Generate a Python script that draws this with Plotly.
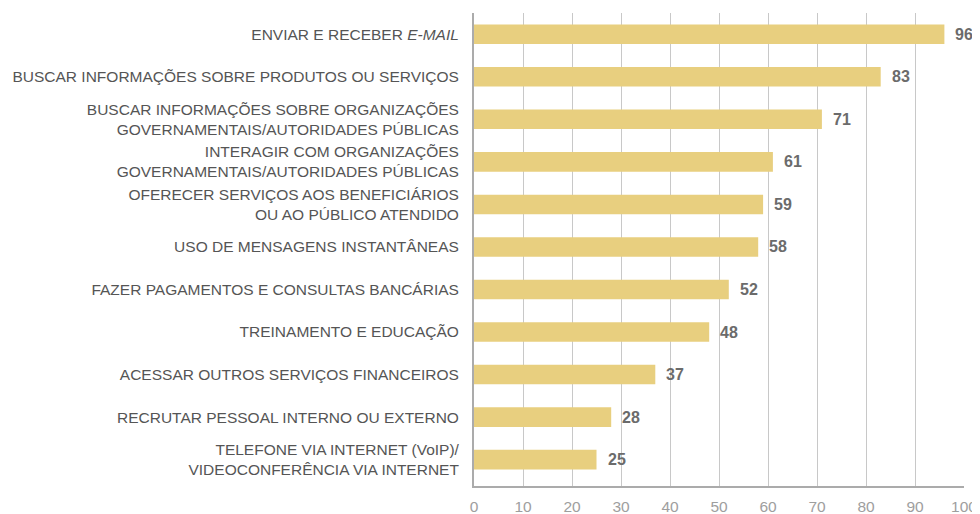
import plotly.graph_objects as go

categories = [
    "ENVIAR E RECEBER <i>E-MAIL</i>",
    "BUSCAR INFORMAÇÕES SOBRE PRODUTOS OU SERVIÇOS",
    "BUSCAR INFORMAÇÕES SOBRE ORGANIZAÇÕES<br>GOVERNAMENTAIS/AUTORIDADES PÚBLICAS",
    "INTERAGIR COM ORGANIZAÇÕES<br>GOVERNAMENTAIS/AUTORIDADES PÚBLICAS",
    "OFERECER SERVIÇOS AOS BENEFICIÁRIOS<br>OU AO PÚBLICO ATENDIDO",
    "USO DE MENSAGENS INSTANTÂNEAS",
    "FAZER PAGAMENTOS E CONSULTAS BANCÁRIAS",
    "TREINAMENTO E EDUCAÇÃO",
    "ACESSAR OUTROS SERVIÇOS FINANCEIROS",
    "RECRUTAR PESSOAL INTERNO OU EXTERNO",
    "TELEFONE VIA INTERNET (VoIP)/<br>VIDEOCONFERÊNCIA VIA INTERNET",
]
values = [96, 83, 71, 61, 59, 58, 52, 48, 37, 28, 25]
x_ticks = [0, 10, 20, 30, 40, 50, 60, 70, 80, 90, 100]

fig = go.Figure()
fig.add_trace(go.Bar(
    x=values, y=list(range(len(categories))), orientation="h",
    marker=dict(color="#E8CF7F", line=dict(width=0)),
    hoverinfo="skip",
))

for i, v in enumerate(values):
    fig.add_annotation(
        x=v, y=i, text=f"<b>{v}</b>", showarrow=False,
        xanchor="left", yanchor="middle", xshift=9,
        font=dict(family="Liberation Sans", size=16, color="#6b6b6b"),
    )

fig.update_layout(
    width=972, height=506,
    margin=dict(l=465.5, r=15.5, t=4.7, b=28.3),
    paper_bgcolor="white", plot_bgcolor="white",
    showlegend=False,
    bargap=0.54,
    font=dict(family="Liberation Sans", size=15.5, color="#555555"),
)
fig.update_xaxes(
    range=[0, 100], tickvals=x_ticks, ticktext=[str(t) for t in x_ticks],
    showgrid=True, gridcolor="#c8c8c8", gridwidth=1.3,
    zeroline=False, showline=True, linecolor="#ababab", linewidth=2,
    tickfont=dict(size=15.5, color="#9e9e9e"), ticks="", ticklabelstandoff=5,
    automargin=False, fixedrange=True,
)
fig.update_yaxes(
    range=[len(categories) - 0.38, -0.5],
    tickvals=list(range(len(categories))), ticktext=categories,
    showgrid=False, zeroline=False,
    showline=True, linecolor="#ababab", linewidth=2,
    ticks="", ticklabelstandoff=10, automargin=False,
    tickfont=dict(size=15.5, color="#555555"),
)

fig.write_html("out.html")
